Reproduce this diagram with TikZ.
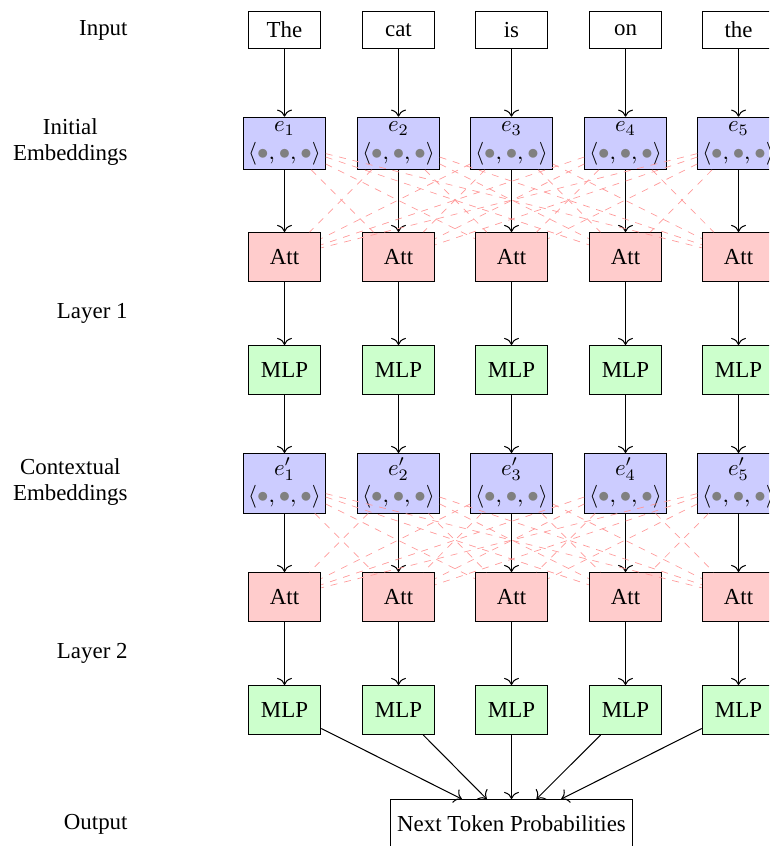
\documentclass[tikz,border=0pt]{standalone}
\usepackage[no-math]{fontspec}
\setmainfont{Liberation Serif}
\usetikzlibrary{arrows.meta}
\newcommand{\graydot}{\textcolor{gray}{\bullet}}
\newcommand{\embvec}{$\langle\graydot,\graydot,\graydot\rangle$}
\begin{document}
\begin{tikzpicture}[x=0.4367pt,y=0.4367pt,yscale=-1,xscale=1,
  box/.style={draw, minimum width=31.75pt, inner sep=3pt},
  wordbox/.style={box, minimum height=16pt},
  embbox/.style={box, fill=blue!20, align=center, inner sep=2pt},
  attbox/.style={box, fill=red!20, minimum height=21.4pt},
  mlpbox/.style={box, fill=green!20, minimum height=21.4pt},
  rowlabel/.style={anchor=east, align=center, inner sep=0pt, font=\fontsize{10}{11}\selectfont},
  flow/.style={-{To[scale=1.2]}, line width=0.45pt},
  attline/.style={dashed, red!40, line width=0.3pt}]
%set diagram left start at 0, and has height of 846
\clip (0,0) rectangle (769,846);

% Text Node
\node [rowlabel] (lblin) at (128,30) {Input};
\node [rowlabel] (lblemb) at (128,142) {Initial\\Embeddings};
\node [rowlabel] (lblone) at (128,313) {Layer 1};
\node [rowlabel] (lblctx) at (128,482) {Contextual\\Embeddings};
\node [rowlabel] (lbltwo) at (128,653) {Layer 2};
\node [rowlabel] (lblout) at (128,824) {Output};

% Input words
\node [wordbox] (in1) at (284.5,30) {The};
\node [wordbox] (in2) at (398.5,30) {cat};
\node [wordbox] (in3) at (511.5,30) {is};
\node [wordbox] (in4) at (625.5,30) {on};
\node [wordbox] (in5) at (738.5,30) {the};

% Initial embeddings
\node [embbox] (emb1) at (284.5,143.3) {$e_{1}$\\\embvec};
\node [embbox] (emb2) at (398.5,143.3) {$e_{2}$\\\embvec};
\node [embbox] (emb3) at (511.5,143.3) {$e_{3}$\\\embvec};
\node [embbox] (emb4) at (625.5,143.3) {$e_{4}$\\\embvec};
\node [embbox] (emb5) at (738.5,143.3) {$e_{5}$\\\embvec};

% Layer 1
\node [attbox] (att1) at (284.5,257) {Att};
\node [attbox] (att2) at (398.5,257) {Att};
\node [attbox] (att3) at (511.5,257) {Att};
\node [attbox] (att4) at (625.5,257) {Att};
\node [attbox] (att5) at (738.5,257) {Att};
\node [mlpbox] (mlp1) at (284.5,370) {MLP};
\node [mlpbox] (mlp2) at (398.5,370) {MLP};
\node [mlpbox] (mlp3) at (511.5,370) {MLP};
\node [mlpbox] (mlp4) at (625.5,370) {MLP};
\node [mlpbox] (mlp5) at (738.5,370) {MLP};

% Contextual embeddings
\node [embbox] (ctx1) at (284.5,483.3) {$e'_{1}$\\\embvec};
\node [embbox] (ctx2) at (398.5,483.3) {$e'_{2}$\\\embvec};
\node [embbox] (ctx3) at (511.5,483.3) {$e'_{3}$\\\embvec};
\node [embbox] (ctx4) at (625.5,483.3) {$e'_{4}$\\\embvec};
\node [embbox] (ctx5) at (738.5,483.3) {$e'_{5}$\\\embvec};

% Layer 2
\node [attbox] (attb1) at (284.5,597) {Att};
\node [attbox] (attb2) at (398.5,597) {Att};
\node [attbox] (attb3) at (511.5,597) {Att};
\node [attbox] (attb4) at (625.5,597) {Att};
\node [attbox] (attb5) at (738.5,597) {Att};
\node [mlpbox] (mlpb1) at (284.5,710) {MLP};
\node [mlpbox] (mlpb2) at (398.5,710) {MLP};
\node [mlpbox] (mlpb3) at (511.5,710) {MLP};
\node [mlpbox] (mlpb4) at (625.5,710) {MLP};
\node [mlpbox] (mlpb5) at (738.5,710) {MLP};

% Output
\node [box, minimum height=21.4pt] (out) at (511.5,824) {Next Token Probabilities};

%Straight Lines
\draw [flow] (in1) edge (emb1) (emb1) edge (att1) (att1) edge (mlp1) (mlp1) edge (ctx1) (ctx1) edge (attb1) (attb1) edge (mlpb1) (mlpb1) edge (out);
\draw [flow] (in2) edge (emb2) (emb2) edge (att2) (att2) edge (mlp2) (mlp2) edge (ctx2) (ctx2) edge (attb2) (attb2) edge (mlpb2) (mlpb2) edge (out);
\draw [flow] (in3) edge (emb3) (emb3) edge (att3) (att3) edge (mlp3) (mlp3) edge (ctx3) (ctx3) edge (attb3) (attb3) edge (mlpb3) (mlpb3) edge (out);
\draw [flow] (in4) edge (emb4) (emb4) edge (att4) (att4) edge (mlp4) (mlp4) edge (ctx4) (ctx4) edge (attb4) (attb4) edge (mlpb4) (mlpb4) edge (out);
\draw [flow] (in5) edge (emb5) (emb5) edge (att5) (att5) edge (mlp5) (mlp5) edge (ctx5) (ctx5) edge (attb5) (attb5) edge (mlpb5) (mlpb5) edge (out);

%Dashed Lines: attention, layer 1
\draw [attline] (emb1) -- (att2) (emb1) -- (att3) (emb1) -- (att4) (emb1) -- (att5);
\draw [attline] (emb2) -- (att1) (emb2) -- (att3) (emb2) -- (att4) (emb2) -- (att5);
\draw [attline] (emb3) -- (att1) (emb3) -- (att2) (emb3) -- (att4) (emb3) -- (att5);
\draw [attline] (emb4) -- (att1) (emb4) -- (att2) (emb4) -- (att3) (emb4) -- (att5);
\draw [attline] (emb5) -- (att1) (emb5) -- (att2) (emb5) -- (att3) (emb5) -- (att4);
%Dashed Lines: attention, layer 2
\draw [attline] (ctx1) -- (attb2) (ctx1) -- (attb3) (ctx1) -- (attb4) (ctx1) -- (attb5);
\draw [attline] (ctx2) -- (attb1) (ctx2) -- (attb3) (ctx2) -- (attb4) (ctx2) -- (attb5);
\draw [attline] (ctx3) -- (attb1) (ctx3) -- (attb2) (ctx3) -- (attb4) (ctx3) -- (attb5);
\draw [attline] (ctx4) -- (attb1) (ctx4) -- (attb2) (ctx4) -- (attb3) (ctx4) -- (attb5);
\draw [attline] (ctx5) -- (attb1) (ctx5) -- (attb2) (ctx5) -- (attb3) (ctx5) -- (attb4);

\end{tikzpicture}
\end{document}
